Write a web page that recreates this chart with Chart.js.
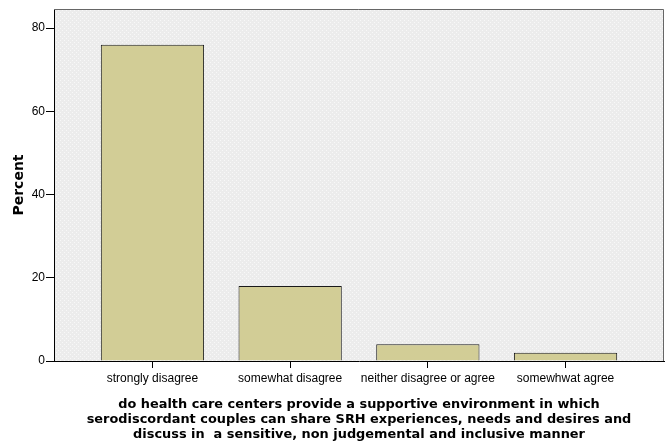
<!DOCTYPE html>
<html>
<head>
<meta charset="utf-8">
<script src="https://cdn.jsdelivr.net/npm/chart.js@4"></script>
<style>
html,body{margin:0;padding:0;background:#fff;}
#wrap{width:665px;height:444px;position:relative;}
</style>
</head>
<body>
<div id="wrap"><canvas id="c" width="665" height="444"></canvas></div>
<script>
const categories = ["strongly disagree", "somewhat disagree", "neither disagree or agree", "somewhwat agree"];
const percentValues = [76, 18, 4, 2];
const yTicks = [0, 20, 40, 60, 80];
const xTitleLines = [
  "do health care centers provide a supportive environment in which",
  "serodiscordant couples can share SRH experiences, needs and desires and",
  "discuss in  a sensitive, non judgemental and inclusive manner"
];
const yTitle = "Percent";

const points = categories.map((c, i) => ({x: i, y: percentValues[i]}));

function makePattern(ctx) {
  const p = document.createElement('canvas');
  p.width = 4; p.height = 4;
  const g = p.getContext('2d');
  g.fillStyle = '#ececec';
  g.fillRect(0, 0, 4, 4);
  g.fillStyle = '#f8f8f8';
  g.fillRect(0, 0, 1, 1);
  g.fillRect(2, 2, 1, 1);
  return ctx.createPattern(p, 'repeat');
}

const plotBg = {
  id: 'plotBg',
  beforeDraw(chart) {
    const {ctx, chartArea: a} = chart;
    ctx.save();
    ctx.fillStyle = makePattern(ctx);
    ctx.fillRect(a.left, a.top, a.right - a.left, a.bottom - a.top);
    ctx.restore();
  },
  afterDraw(chart) {
    const {ctx, chartArea: a} = chart;
    ctx.save();
    ctx.strokeStyle = '#666';
    ctx.lineWidth = 1;
    ctx.beginPath();
    ctx.moveTo(a.left, a.top + 0.5);
    ctx.lineTo(a.right - 0.5, a.top + 0.5);
    ctx.lineTo(a.right - 0.5, a.bottom);
    ctx.stroke();
    ctx.restore();
  }
};

new Chart(document.getElementById('c'), {
  type: 'bar',
  data: {
    datasets: [{
      data: points,
      backgroundColor: '#d2cd96',
      borderColor: '#1a1a1a',
      borderWidth: 1,
      barPercentage: 0.75,
      categoryPercentage: 1
    }]
  },
  options: {
    responsive: false,
    animation: false,
    devicePixelRatio: 1,
    layout: {padding: {left: 0, right: 1, top: 9, bottom: 0}},
    plugins: {legend: {display: false}, tooltip: {enabled: false}},
    scales: {
      x: {
        type: 'linear',
        min: -0.715,
        max: 3.715,
        offset: false,
        afterBuildTicks(scale) { scale.ticks = categories.map((c, i) => ({value: i})); },
        afterFit(scale) { scale.height = 83; },
        ticks: {
          autoSkip: false,
          maxRotation: 0,
          padding: 3,
          color: '#000',
          font: {family: 'Liberation Sans, Arial', size: 12},
          callback: (v) => categories[v]
        },
        grid: {display: true, offset: false, drawOnChartArea: false, drawTicks: true, tickLength: 7, color: '#000'},
        border: {display: true, color: '#000', width: 1},
        title: {
          display: true,
          text: xTitleLines,
          color: '#000',
          font: {family: 'DejaVu Sans', size: 12.9, weight: 'bold', lineHeight: 1.16},
          padding: {top: 0, bottom: 2}
        }
      },
      y: {
        min: 0,
        max: 84.6,
        afterBuildTicks(scale) { scale.ticks = yTicks.map(v => ({value: v})); },
        afterFit(scale) { scale.width = 54; },
        ticks: {
          color: '#000',
          padding: 1,
          font: {family: 'Liberation Sans, Arial', size: 12}
        },
        grid: {display: true, drawOnChartArea: false, drawTicks: true, tickLength: 8, color: '#000'},
        border: {display: true, color: '#000', width: 1},
        title: {
          display: true,
          text: yTitle,
          color: '#000',
          font: {family: 'DejaVu Sans', size: 14, weight: 'bold'},
          padding: {top: 11, bottom: 0}
        }
      }
    }
  },
  plugins: [plotBg]
});
</script>
</body>
</html>
